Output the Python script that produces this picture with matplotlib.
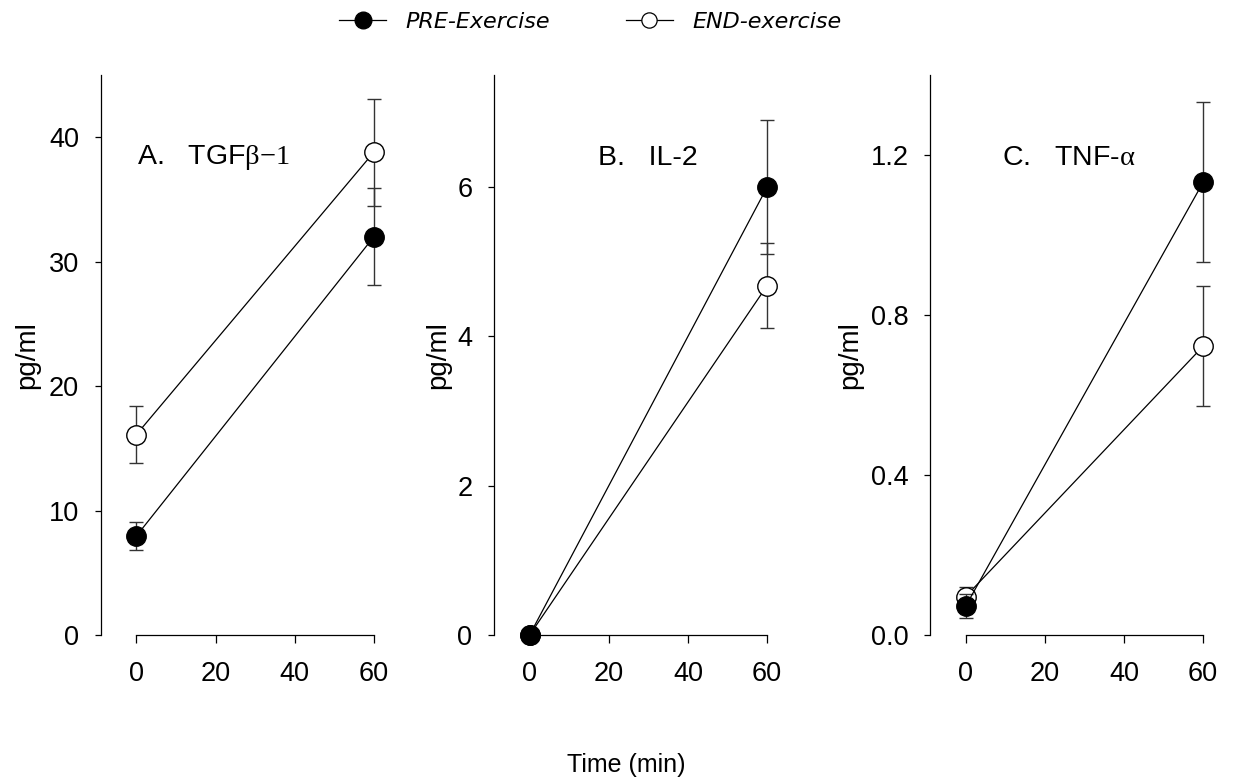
import matplotlib
matplotlib.use('Agg')
import matplotlib.pyplot as plt
from matplotlib.lines import Line2D

plt.rcParams['font.family'] = ['Liberation Sans', 'DejaVu Sans']
# 希腊字母用衬线直立字体
plt.rcParams['mathtext.fontset'] = 'custom'
plt.rcParams['mathtext.rm'] = 'Liberation Serif'
plt.rcParams['mathtext.it'] = 'Liberation Serif'
plt.rcParams['mathtext.bf'] = 'Liberation Serif:bold'

# 数据
time = [0, 60]

tgf_pre = [7.95, 32.0]
tgf_pre_err = [1.1, 3.9]
tgf_end = [16.1, 38.8]
tgf_end_err = [2.3, 4.3]

il2_pre = [0.0, 6.0]
il2_pre_err = [0.0, 0.9]
il2_end = [0.0, 4.68]
il2_end_err = [0.0, 0.57]

tnf_pre = [0.072, 1.132]
tnf_pre_err = [0.03, 0.2]
tnf_end = [0.096, 0.722]
tnf_end_err = [0.023, 0.15]

panel_titles = [r'A.   TGF$\beta{-}1$', 'B.   IL-2', r'C.   TNF-$\alpha$']
y_tops = [45, 7.5, 1.4]
y_ticks = [[0, 10, 20, 30, 40], [0, 2, 4, 6], [0.0, 0.4, 0.8, 1.2]]
y_ticklabels = [['0', '10', '20', '30', '40'], ['0', '2', '4', '6'], ['0.0', '0.4', '0.8', '1.2']]
x_ticks = [0, 20, 40, 60]

panels = [
    (tgf_pre, tgf_pre_err, tgf_end, tgf_end_err),
    (il2_pre, il2_pre_err, il2_end, il2_end_err),
    (tnf_pre, tnf_pre_err, tnf_end, tnf_end_err),
]

W, H = 1233, 784
fig = plt.figure(figsize=(W / 100, H / 100), dpi=100)

# 各子图的像素位置
lefts_px = [100.7, 494, 930]
width_px = 289
bottom_px, top_px = 635, 75
title_x = [0.126, 0.36, 0.249]
ylabel_x = [-0.21, -0.149, -0.232]

for i, (pre, pre_err, end, end_err) in enumerate(panels):
    ax = fig.add_axes([lefts_px[i] / W, 1 - bottom_px / H, width_px / W, (bottom_px - top_px) / H])
    for vals, errs, fc, z in [(end, end_err, 'white', 3), (pre, pre_err, 'black', 4)]:
        cont = ax.errorbar(time, vals, yerr=errs, color='black', lw=0.9, marker='o', ms=14,
                           mfc=fc, mec='black', mew=1.0, ecolor='#333333', elinewidth=1.0,
                           capsize=5, capthick=1.0, zorder=z)
        for art in cont.get_children():
            art.set_clip_on(False)
    ax.set_xlim(-9, 64)
    ax.set_ylim(0, y_tops[i])
    ax.set_xticks(x_ticks)
    ax.set_xticklabels([str(t) for t in x_ticks])
    ax.set_yticks(y_ticks[i])
    ax.set_yticklabels(y_ticklabels[i])
    for s in ['top', 'right']:
        ax.spines[s].set_visible(False)
    ax.spines['bottom'].set_bounds(0, 60)
    ax.spines['left'].set_bounds(0, y_tops[i])
    for s in ['bottom', 'left']:
        ax.spines[s].set_linewidth(0.9)
    ax.tick_params(axis='x', direction='out', length=5.5, width=0.9, pad=13, labelsize=19.5)
    ax.tick_params(axis='y', direction='out', length=4.5, width=0.9, pad=11, labelsize=19.5)
    ax.set_ylabel('pg/ml', fontsize=20)
    ax.yaxis.set_label_coords(ylabel_x[i], 0.5)
    ax.text(title_x[i], 0.852, panel_titles[i], transform=ax.transAxes,
            fontsize=20.5, va='center', ha='left')

# 图例
h_pre = Line2D([], [], color='black', lw=0.9, marker='o', ms=12, mfc='black', mec='black')
h_end = Line2D([], [], color='black', lw=0.9, marker='o', ms=11, mfc='white', mec='black', mew=0.9)
fig.legend([h_pre, h_end], ['PRE-Exercise', 'END-exercise'], loc='center',
           bbox_to_anchor=(0.479, 0.972), ncol=2, frameon=False,
           prop={'family': 'DejaVu Sans', 'style': 'italic', 'size': 16},
           handlelength=2.1, columnspacing=3.4, handletextpad=0.9)

fig.text(626 / W, 1 - 765 / H, 'Time (min)', fontsize=18, ha='center', va='center')

plt.savefig('out.png', dpi=100)
